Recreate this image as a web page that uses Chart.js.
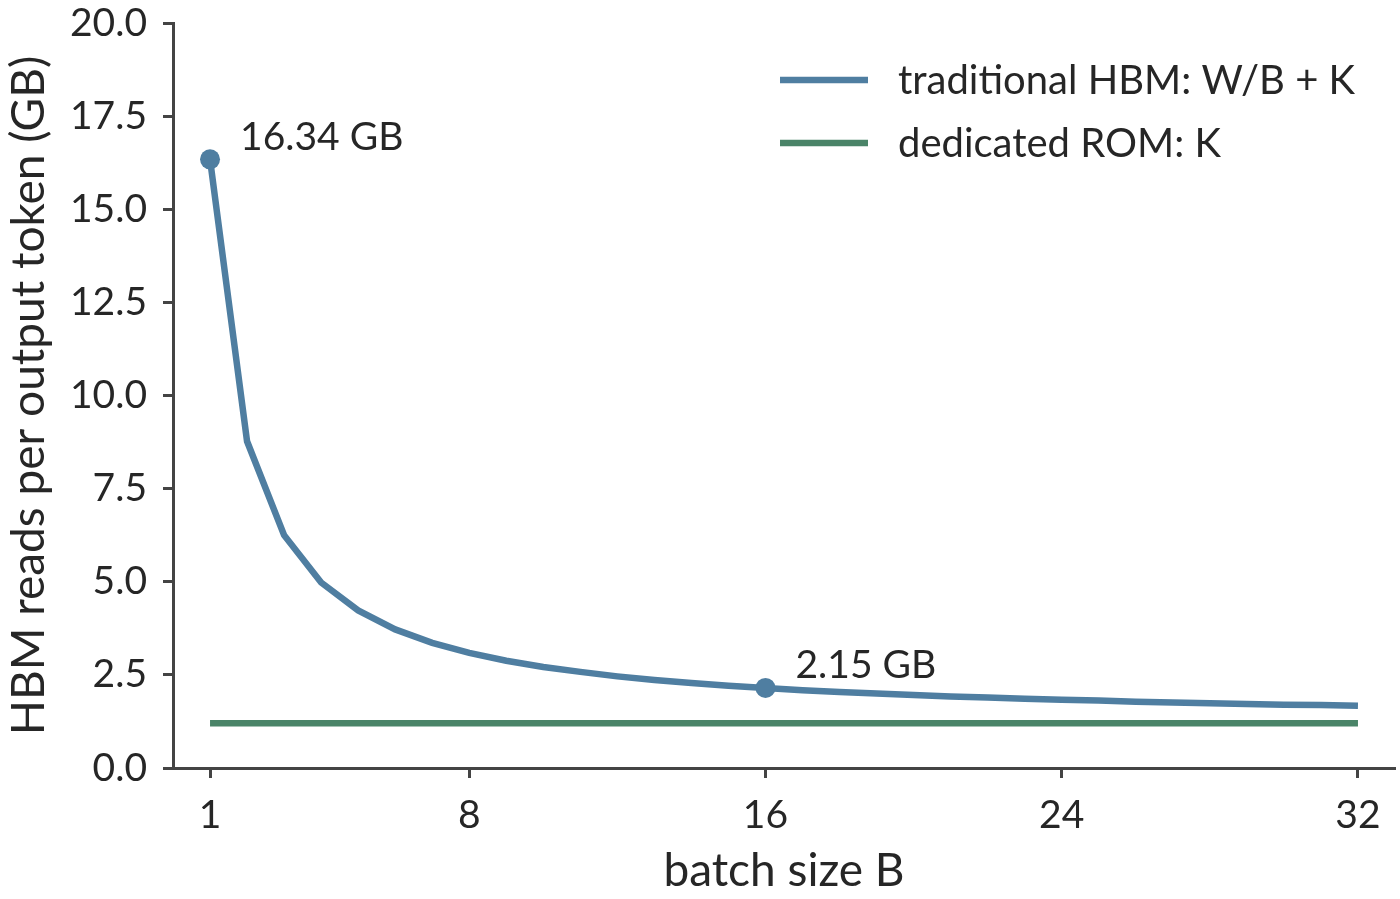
<!DOCTYPE html>
<html>
<head>
<meta charset="utf-8">
<script src="https://cdn.jsdelivr.net/npm/chart.js@4.4.1/dist/chart.umd.min.js"></script>
<style>
  html, body { margin: 0; padding: 0; background: #fff; }
  #wrap { width: 1400px; height: 899px; position: relative; }
</style>
</head>
<body>
<div id="wrap"><canvas id="chart" width="1400" height="899"></canvas></div>
<script>
const batchSizes = [1, 2, 3, 4, 5, 6, 7, 8, 9, 10, 11, 12, 13, 14, 15, 16,
  17, 18, 19, 20, 21, 22, 23, 24, 25, 26, 27, 28, 29, 30, 31, 32];
const traditionalReads = [16.34, 8.77, 6.25, 4.98, 4.23, 3.72, 3.36, 3.09, 2.88, 2.71, 2.58, 2.46, 2.36, 2.28, 2.21, 2.15,
  2.09, 2.04, 2.00, 1.96, 1.92, 1.89, 1.86, 1.83, 1.81, 1.78, 1.76, 1.74, 1.72, 1.70, 1.69, 1.67];
const dedicatedReads = [1.2, 1.2, 1.2, 1.2, 1.2, 1.2, 1.2, 1.2, 1.2, 1.2, 1.2, 1.2, 1.2, 1.2, 1.2, 1.2,
  1.2, 1.2, 1.2, 1.2, 1.2, 1.2, 1.2, 1.2, 1.2, 1.2, 1.2, 1.2, 1.2, 1.2, 1.2, 1.2];
const xTickValues = [1, 8, 16, 24, 32];
const yTickValues = [0, 2.5, 5, 7.5, 10, 12.5, 15, 17.5, 20];
const seriesLabels = ["traditional HBM: W/B + K", "dedicated ROM: K"];
const markedBatches = [1, 16];
const markedLabels = ["16.34 GB", "2.15 GB"];

const FONT = "Lato, 'Noto Sans', sans-serif";
const TEXT = "#262626";
const AXIS = "#444444";
const BLUE = "#4f7ea1";
const GREEN = "#4a8468";

// point markers only on the annotated batch sizes
const markerRadius = batchSizes.map(b => markedBatches.includes(b) ? 10 : 0);

const extras = {
  id: "extras",
  afterDatasetsDraw(chart) {
    const ctx = chart.ctx;
    const xs = chart.scales.x, ys = chart.scales.y;
    ctx.save();
    ctx.font = "39px " + FONT;
    ctx.fillStyle = TEXT;
    ctx.textBaseline = "middle";
    ctx.textAlign = "left";
    markedBatches.forEach((b, i) => {
      const v = traditionalReads[batchSizes.indexOf(b)];
      ctx.fillText(markedLabels[i], xs.getPixelForValue(b) + 30, ys.getPixelForValue(v) - 22);
    });
    // legend, upper right
    const colors = [BLUE, GREEN];
    ctx.font = "40px " + FONT;
    seriesLabels.forEach((lab, i) => {
      const y = 80 + i * 63;
      ctx.strokeStyle = colors[i];
      ctx.lineWidth = 6.5;
      ctx.beginPath();
      ctx.moveTo(780, y);
      ctx.lineTo(868, y);
      ctx.stroke();
      ctx.fillText(lab, 898, y + 1);
    });
    ctx.restore();
  }
};

const ctx = document.getElementById("chart").getContext("2d");
new Chart(ctx, {
  type: "line",
  data: {
    labels: batchSizes,
    datasets: [
      {
        label: seriesLabels[0],
        data: batchSizes.map((b, i) => ({ x: b, y: traditionalReads[i] })),
        borderColor: BLUE,
        backgroundColor: BLUE,
        borderWidth: 6.5,
        pointRadius: markerRadius,
        pointHoverRadius: markerRadius,
        pointBorderWidth: 0,
        tension: 0
      },
      {
        label: seriesLabels[1],
        data: batchSizes.map((b, i) => ({ x: b, y: dedicatedReads[i] })),
        borderColor: GREEN,
        backgroundColor: GREEN,
        borderWidth: 6.5,
        pointRadius: 0,
        tension: 0
      }
    ]
  },
  options: {
    responsive: false,
    animation: false,
    layout: { autoPadding: false, padding: { left: 0, top: 23, right: 5, bottom: 0 } },
    plugins: {
      legend: { display: false },
      tooltip: { enabled: false }
    },
    scales: {
      x: {
        type: "linear",
        min: 0,
        max: 33,
        afterBuildTicks: s => { s.ticks = xTickValues.map(v => ({ value: v })); },
        afterFit: s => { s.height = 899 - 768; s.paddingLeft = 0; s.paddingRight = 0; },
        grid: { drawOnChartArea: false, drawTicks: true, tickLength: 10, tickWidth: 3, tickColor: AXIS },
        border: { display: true, color: AXIS, width: 3 },
        ticks: { color: TEXT, font: { family: FONT, size: 39 }, padding: 14, maxRotation: 0 },
        title: { display: true, text: "batch size B", color: TEXT, font: { family: FONT, size: 46 }, padding: { top: 0, bottom: 0 } }
      },
      y: {
        min: 0,
        max: 20,
        afterBuildTicks: s => { s.ticks = yTickValues.map(v => ({ value: v })); },
        afterFit: s => { s.width = 173; s.paddingTop = 0; s.paddingBottom = 0; },
        grid: { drawOnChartArea: false, drawTicks: true, tickLength: 10, tickWidth: 3, tickColor: AXIS },
        border: { display: true, color: AXIS, width: 3 },
        ticks: { color: TEXT, font: { family: FONT, size: 39 }, padding: 16, callback: v => v.toFixed(1) },
        title: { display: true, text: "HBM reads per output token (GB)", color: TEXT, font: { family: FONT, size: 46 }, padding: { top: 2, bottom: 0 } }
      }
    }
  },
  plugins: [extras]
});
</script>
</body>
</html>
